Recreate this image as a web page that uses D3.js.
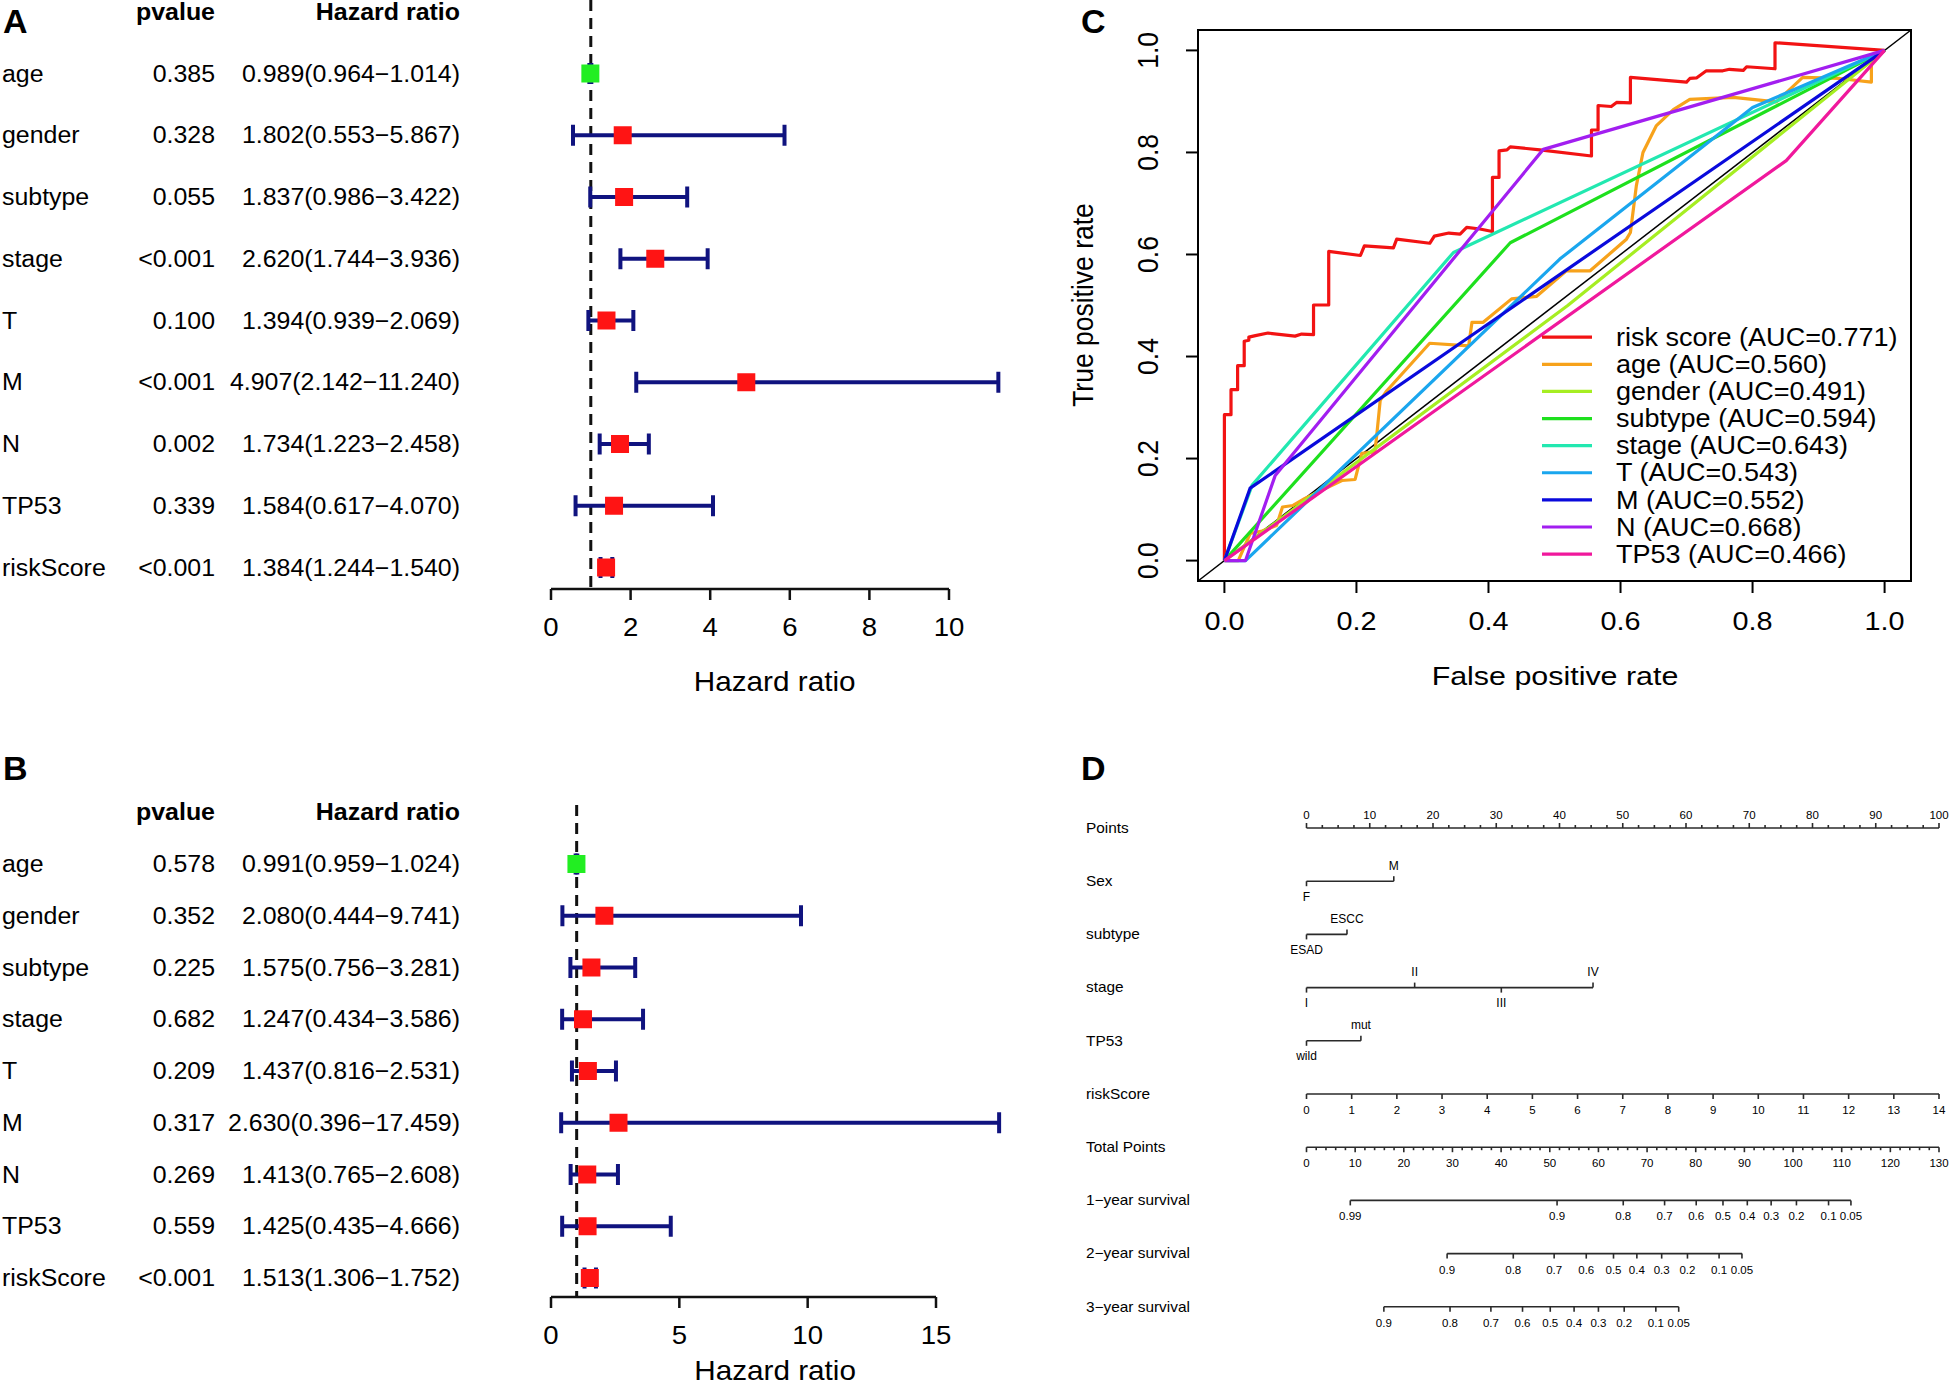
<!DOCTYPE html>
<html>
<head>
<meta charset="utf-8">
<script src="https://cdn.jsdelivr.net/npm/d3@7/dist/d3.min.js"></script>
<style>
  body { margin: 0; background: #fff; }
  svg { display: block; font-family: "Liberation Sans", Arial, sans-serif; }
</style>
</head>
<body>
<div id="chart"></div>
<script>
// ---------- A / B : forest plots ----------
var varNames = ["age", "gender", "subtype", "stage", "T", "M", "N", "TP53", "riskScore"];

var uniP = ["0.385", "0.328", "0.055", "<0.001", "0.100", "<0.001", "0.002", "0.339", "<0.001"];
var uniHR = [0.989, 1.802, 1.837, 2.620, 1.394, 4.907, 1.734, 1.584, 1.384];
var uniLow = [0.964, 0.553, 0.986, 1.744, 0.939, 2.142, 1.223, 0.617, 1.244];
var uniHigh = [1.014, 5.867, 3.422, 3.936, 2.069, 11.240, 2.458, 4.070, 1.540];
var uniTicks = [0, 2, 4, 6, 8, 10];

var multiP = ["0.578", "0.352", "0.225", "0.682", "0.209", "0.317", "0.269", "0.559", "<0.001"];
var multiHR = [0.991, 2.080, 1.575, 1.247, 1.437, 2.630, 1.413, 1.425, 1.513];
var multiLow = [0.959, 0.444, 0.756, 0.434, 0.816, 0.396, 0.765, 0.435, 1.306];
var multiHigh = [1.024, 9.741, 3.281, 3.586, 2.531, 17.459, 2.608, 4.666, 1.752];
var multiTicks = [0, 5, 10, 15];

// ---------- C : ROC curves ----------
var rocNames = ["risk score", "age", "gender", "subtype", "stage", "T", "M", "N", "TP53"];
var rocAUC = ["0.771", "0.560", "0.491", "0.594", "0.643", "0.543", "0.552", "0.668", "0.466"];
var rocColors = ["#F21313", "#F7A21B", "#A6EE22", "#1EE01E", "#22E8B0", "#1AA6EE", "#0A0ADC", "#A21EF0", "#F0189C"];
var rocTicks = [0, 0.2, 0.4, 0.6, 0.8, 1.0];

var rocRisk = [[0,0],[0,0.286],[0.010,0.286],[0.010,0.335],[0.020,0.335],[0.020,0.382],[0.030,0.382],[0.030,0.430],
  [0.037,0.432],[0.037,0.438],[0.047,0.441],[0.066,0.446],[0.107,0.440],[0.117,0.444],[0.135,0.443],[0.135,0.501],
  [0.158,0.501],[0.158,0.606],[0.206,0.598],[0.212,0.617],[0.256,0.613],[0.261,0.630],[0.311,0.622],[0.318,0.636],
  [0.340,0.642],[0.357,0.640],[0.367,0.653],[0.387,0.650],[0.406,0.645],[0.406,0.751],[0.416,0.751],[0.416,0.803],
  [0.428,0.805],[0.433,0.811],[0.478,0.805],[0.556,0.793],[0.556,0.844],[0.566,0.844],[0.566,0.892],[0.586,0.890],
  [0.594,0.898],[0.615,0.897],[0.615,0.947],[0.700,0.938],[0.705,0.945],[0.715,0.946],[0.730,0.960],[0.755,0.960],
  [0.765,0.963],[0.786,0.961],[0.791,0.968],[0.834,0.964],[0.834,1.015],[1,1]];
var rocAge = [[0,0],[0.021,0],[0.039,0.053],[0.057,0.058],[0.079,0.069],[0.088,0.105],[0.104,0.108],[0.122,0.122],
  [0.178,0.157],[0.198,0.159],[0.208,0.210],[0.228,0.213],[0.231,0.249],[0.236,0.314],[0.246,0.333],[0.311,0.426],
  [0.370,0.421],[0.375,0.467],[0.392,0.467],[0.435,0.513],[0.473,0.518],[0.518,0.568],[0.554,0.568],[0.609,0.630],
  [0.615,0.643],[0.624,0.735],[0.634,0.800],[0.654,0.852],[0.680,0.884],[0.705,0.904],[0.771,0.908],[0.836,0.899],
  [0.876,0.947],[0.932,0.945],[0.980,0.938],[0.980,0.975],[1,1]];
var rocGender = [[0,0],[0.52,0.50],[1,1]];
var rocSubtype = [[0,0],[0.433,0.623],[1,1]];
var rocStage = [[0,0],[0.042,0.148],[0.347,0.604],[1,1]];
var rocT = [[0,0],[0.032,0],[0.508,0.591],[0.800,0.888],[1,1]];
var rocM = [[0,0],[0.039,0.142],[1,1]];
var rocN = [[0,0],[0.032,0],[0.077,0.167],[0.483,0.806],[1,1]];
var rocTP53 = [[0,0],[0.851,0.784],[1,1]];
var rocCurves = [rocRisk, rocAge, rocGender, rocSubtype, rocStage, rocT, rocM, rocN, rocTP53];

// ---------- D : nomogram ----------
var nomoRows = ["Points", "Sex", "subtype", "stage", "TP53", "riskScore", "Total Points",
  "1\u2212year survival", "2\u2212year survival", "3\u2212year survival"];
var pointTicks = [0, 10, 20, 30, 40, 50, 60, 70, 80, 90, 100];
var sexLevels = ["F", "M"], sexPoints = [0, 13.8];
var subtypeLevels = ["ESAD", "ESCC"], subtypePoints = [0, 6.4];
var stageLevels = ["I", "II", "III", "IV"], stagePoints = [0, 17.1, 30.8, 45.3];
var tp53Levels = ["wild", "mut"], tp53Points = [0, 8.6];
var riskTicks = [0, 1, 2, 3, 4, 5, 6, 7, 8, 9, 10, 11, 12, 13, 14];
var totalTicks = [0, 10, 20, 30, 40, 50, 60, 70, 80, 90, 100, 110, 120, 130];
var surv1Labels = ["0.99", "0.9", "0.8", "0.7", "0.6", "0.5", "0.4", "0.3", "0.2", "0.1", "0.05"];
var surv1Total = [9.0, 51.5, 65.1, 73.6, 80.1, 85.6, 90.6, 95.5, 100.7, 107.3, 111.9];
var surv2Labels = ["0.9", "0.8", "0.7", "0.6", "0.5", "0.4", "0.3", "0.2", "0.1", "0.05"];
var surv2Total = [28.9, 42.5, 50.9, 57.5, 63.1, 67.9, 73.0, 78.3, 84.8, 89.5];
var surv3Labels = ["0.9", "0.8", "0.7", "0.6", "0.5", "0.4", "0.3", "0.2", "0.1", "0.05"];
var surv3Total = [15.9, 29.5, 37.9, 44.4, 50.1, 55.0, 60.0, 65.3, 71.8, 76.5];

var svg = d3.select("#chart").append("svg")
    .attr("width", 1950).attr("height", 1384);

function addText(g, x, y, str, size, anchor, sx, weight) {
    return g.append("text")
        .attr("transform", "translate(" + x + "," + y + ") scale(" + (sx || 1) + ",1)")
        .attr("text-anchor", anchor || "start")
        .attr("dominant-baseline", "central")
        .style("font-size", size + "px")
        .style("font-weight", weight || "normal")
        .text(str);
}

function fmt(v) { return v.toFixed(3); }

function forest(g, o) {
    var x = d3.scaleLinear().domain(o.domain).range([551, o.right]);
    var y = d3.scaleLinear().domain([0, varNames.length - 1]).range([o.top, o.bottom]);

    addText(g, 215, o.headY, "pvalue", 24, "end", 1.04, "bold");
    addText(g, 460, o.headY, "Hazard ratio", 24, "end", 1.04, "bold");

    varNames.forEach(function(d, i) {
        addText(g, 2, y(i), d, 23.5, "start", 1.06);
        addText(g, 215, y(i), o.p[i], 23.5, "end", 1.06);
        addText(g, 460, y(i), fmt(o.hr[i]) + "(" + fmt(o.low[i]) + "\u2212" + fmt(o.high[i]) + ")", 23.5, "end", 1.06);
    });

    g.append("line")
        .attr("x1", x(1)).attr("x2", x(1)).attr("y1", o.dashTop).attr("y2", o.axisY)
        .attr("stroke", "#111").attr("stroke-width", 3).attr("stroke-dasharray", "11,7");

    var rows = g.selectAll(".row").data(varNames).enter().append("g");
    rows.append("line")
        .attr("x1", function(d, i) { return x(o.low[i]); })
        .attr("x2", function(d, i) { return x(o.high[i]); })
        .attr("y1", function(d, i) { return y(i); })
        .attr("y2", function(d, i) { return y(i); })
        .attr("stroke", "#10137F").attr("stroke-width", 4);
    [o.low, o.high].forEach(function(arr) {
        rows.append("line")
            .attr("x1", function(d, i) { return x(arr[i]); })
            .attr("x2", function(d, i) { return x(arr[i]); })
            .attr("y1", function(d, i) { return y(i) - 10.5; })
            .attr("y2", function(d, i) { return y(i) + 10.5; })
            .attr("stroke", "#10137F").attr("stroke-width", 4);
    });
    rows.append("rect")
        .attr("x", function(d, i) { return x(o.hr[i]) - 9; })
        .attr("y", function(d, i) { return y(i) - 9; })
        .attr("width", 18).attr("height", 18)
        .attr("fill", function(d, i) { return o.hr[i] < 1 ? "#22EE22" : "#FF1414"; });

    var ax = g.append("g");
    ax.append("line")
        .attr("x1", x(o.ticks[0])).attr("x2", x(o.ticks[o.ticks.length - 1]))
        .attr("y1", o.axisY).attr("y2", o.axisY)
        .attr("stroke", "#111").attr("stroke-width", 2.5);
    o.ticks.forEach(function(t) {
        ax.append("line")
            .attr("x1", x(t)).attr("x2", x(t)).attr("y1", o.axisY).attr("y2", o.axisY + 11)
            .attr("stroke", "#111").attr("stroke-width", 2.5);
        addText(ax, x(t), o.axisY + 38, t, 26, "middle", 1.06);
    });
    addText(g, x(d3.max(o.high) / 2), o.titleY, "Hazard ratio", 27, "middle", 1.1);
}

forest(svg.append("g"), {
    domain: [0, 10], right: 949, ticks: uniTicks,
    top: 73.5, bottom: 567.5, headY: 12, dashTop: 0, axisY: 589, titleY: 681,
    p: uniP, hr: uniHR, low: uniLow, high: uniHigh
});
forest(svg.append("g"), {
    domain: [0, 15], right: 936, ticks: multiTicks,
    top: 864, bottom: 1278, headY: 812, dashTop: 805, axisY: 1297, titleY: 1370,
    p: multiP, hr: multiHR, low: multiLow, high: multiHigh
});

// panel letters
addText(svg, 3, 21, "A", 34, "start", 1, "bold");
addText(svg, 3, 768, "B", 34, "start", 1, "bold");
addText(svg, 1081, 21, "C", 34, "start", 1, "bold");
addText(svg, 1081, 768, "D", 34, "start", 1, "bold");

// ---------- C ----------
(function() {
    var g = svg.append("g");
    var x = d3.scaleLinear().domain([-0.04, 1.04]).range([1198, 1911]);
    var y = d3.scaleLinear().domain([-0.04, 1.04]).range([581, 30]);

    g.append("line")
        .attr("x1", x(-0.04)).attr("y1", y(-0.04)).attr("x2", x(1.04)).attr("y2", y(1.04))
        .attr("stroke", "#000").attr("stroke-width", 1.5);

    var line = d3.line().x(function(d) { return x(d[0]); }).y(function(d) { return y(d[1]); });
    g.selectAll(".roc").data(rocCurves).enter().append("path")
        .attr("d", line)
        .attr("fill", "none")
        .attr("stroke", function(d, i) { return rocColors[i]; })
        .attr("stroke-width", 3.2)
        .attr("stroke-linejoin", "round");

    g.append("rect")
        .attr("x", x(-0.04)).attr("y", y(1.04))
        .attr("width", x(1.04) - x(-0.04)).attr("height", y(-0.04) - y(1.04))
        .attr("fill", "none").attr("stroke", "#000").attr("stroke-width", 2);

    rocTicks.forEach(function(t) {
        g.append("line")
            .attr("x1", x(t)).attr("x2", x(t)).attr("y1", y(-0.04)).attr("y2", y(-0.04) + 12)
            .attr("stroke", "#000").attr("stroke-width", 2);
        addText(g, x(t), 621, t.toFixed(1), 25.5, "middle", 1.13);
        g.append("line")
            .attr("x1", x(-0.04)).attr("x2", x(-0.04) - 12).attr("y1", y(t)).attr("y2", y(t))
            .attr("stroke", "#000").attr("stroke-width", 2);
        g.append("text")
            .attr("transform", "translate(1148," + y(t) + ") rotate(-90) scale(1,1.12)")
            .attr("text-anchor", "middle").attr("dominant-baseline", "central")
            .style("font-size", "26.5px")
            .text(t.toFixed(1));
    });

    addText(g, 1555, 676, "False positive rate", 26, "middle", 1.17);
    g.append("text")
        .attr("transform", "translate(1083,305) rotate(-90) scale(1,1.12)")
        .attr("text-anchor", "middle").attr("dominant-baseline", "central")
        .style("font-size", "26.5px")
        .text("True positive rate");

    var ly = d3.scaleLinear().domain([0, rocNames.length - 1]).range([337.2, 554.1]);
    rocNames.forEach(function(d, i) {
        g.append("line")
            .attr("x1", 1542).attr("x2", 1592).attr("y1", ly(i)).attr("y2", ly(i))
            .attr("stroke", rocColors[i]).attr("stroke-width", 3.2);
        addText(g, 1616, ly(i), d + " (AUC=" + rocAUC[i] + ")", 25.5, "start", 1.06);
    });
})();

// ---------- D ----------
(function() {
    var g = svg.append("g");
    var pts = d3.scaleLinear().domain([0, 100]).range([1306.5, 1939]);
    var tot = d3.scaleLinear().domain([0, 130]).range([1306.5, 1939]);
    var risk = d3.scaleLinear().domain([0, 14]).range([1306.5, 1939]);
    var rowY = d3.scaleLinear().domain([0, nomoRows.length - 1]).range([828, 1306.8]);
    var col = "#2a2a2a", lw = 1.6;

    nomoRows.forEach(function(d, i) {
        addText(g, 1086, rowY(i), d, 14, "start", 1.1);
    });

    function hline(x1, x2, yy) {
        g.append("line").attr("x1", x1).attr("x2", x2).attr("y1", yy).attr("y2", yy)
            .attr("stroke", col).attr("stroke-width", lw);
    }
    function tick(xx, yy, len) {
        g.append("line").attr("x1", xx).attr("x2", xx).attr("y1", yy).attr("y2", yy + len)
            .attr("stroke", col).attr("stroke-width", lw);
    }

    // Points
    var y0 = rowY(0);
    hline(pts(0), pts(100), y0);
    d3.range(0, 100.1, 2.5).forEach(function(v) { tick(pts(v), y0, v % 10 === 0 ? -5 : -3); });
    pointTicks.forEach(function(v) { addText(g, pts(v), y0 - 13, v, 11.5, "middle"); });

    // categorical rows
    function catRow(levels, points, row) {
        var yy = rowY(row);
        hline(pts(points[0]), pts(points[points.length - 1]), yy);
        levels.forEach(function(l, i) {
            var up = i % 2 === 1;
            tick(pts(points[i]), yy, up ? -5 : 5);
            addText(g, pts(points[i]), yy + (up ? -15.5 : 15.5), l, 12, "middle");
        });
    }
    catRow(sexLevels, sexPoints, 1);
    catRow(subtypeLevels, subtypePoints, 2);
    catRow(stageLevels, stagePoints, 3);
    catRow(tp53Levels, tp53Points, 4);

    // riskScore
    var y5 = rowY(5);
    hline(risk(0), risk(14), y5);
    riskTicks.forEach(function(v) {
        tick(risk(v), y5, 5);
        addText(g, risk(v), y5 + 16, v, 11.5, "middle");
    });

    // Total Points
    var y6 = rowY(6);
    hline(tot(0), tot(130), y6);
    d3.range(0, 130.1, 2).forEach(function(v) { tick(tot(v), y6, v % 10 === 0 ? 5 : 3); });
    totalTicks.forEach(function(v) { addText(g, tot(v), y6 + 16, v, 11.5, "middle"); });

    // survival rows
    function survRow(labels, totals, row) {
        var yy = rowY(row);
        hline(tot(totals[0]), tot(totals[totals.length - 1]), yy);
        labels.forEach(function(l, i) {
            tick(tot(totals[i]), yy, 5);
            addText(g, tot(totals[i]), yy + 16, l, 11.5, "middle");
        });
    }
    survRow(surv1Labels, surv1Total, 7);
    survRow(surv2Labels, surv2Total, 8);
    survRow(surv3Labels, surv3Total, 9);
})();
</script>
</body>
</html>
